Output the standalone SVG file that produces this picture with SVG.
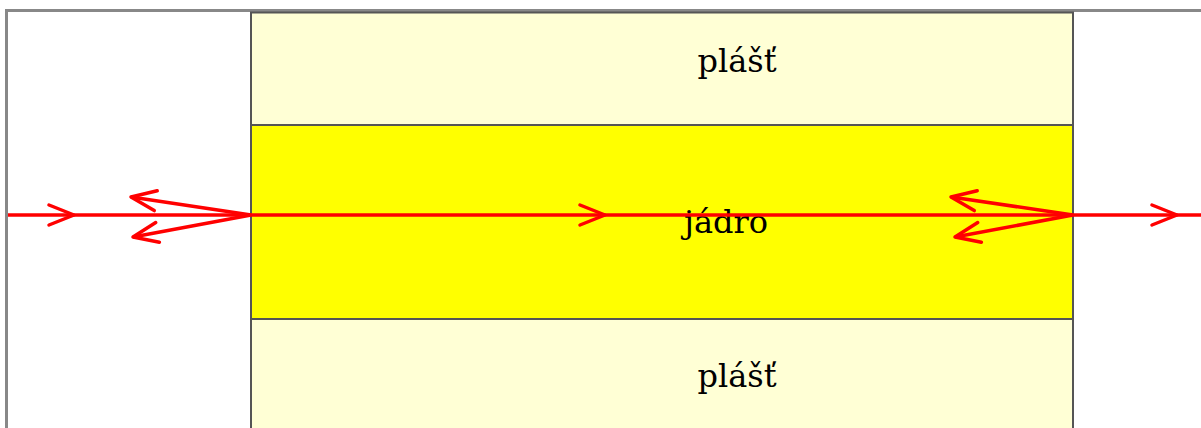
<svg xmlns="http://www.w3.org/2000/svg" width="1201" height="428" viewBox="0 0 1201 428">
<style>
.frame{fill:#fff;stroke:#888;stroke-width:3}
.clad{fill:#ffffd5;stroke:#555;stroke-width:2}
.core{fill:#ffff00;stroke:#555;stroke-width:2}
.lbl{font-family:"DejaVu Serif","Liberation Serif",serif;font-size:32px;fill:#000;text-anchor:middle}
.ray{fill:none;stroke:#ff0000;stroke-width:3.5}
</style>
<defs>
<marker id="chev" markerUnits="userSpaceOnUse" viewBox="-30 -15 34 30" refX="0" refY="0" markerWidth="34" markerHeight="30" orient="auto" overflow="visible">
<path d="M-25,-10 L0,0 L-25,10" fill="none" stroke="#ff0000" stroke-width="3.5" stroke-linecap="round" stroke-linejoin="round"/>
</marker>
</defs>
<rect class="frame" x="6.5" y="10.5" width="1210" height="430"/>
<g id="plast-top">
<rect class="clad" x="251" y="12.5" width="822" height="112.5"/>
<text class="lbl" x="737" y="72">plášť</text>
</g>
<g id="plast-bottom">
<rect class="clad" x="251" y="319" width="822" height="130"/>
<text class="lbl" x="737" y="387">plášť</text>
</g>
<g id="jadro">
<rect class="core" x="251" y="125" width="822" height="194"/>
<text class="lbl" x="726" y="233">jádro</text>
</g>
<g id="connectors">
<path class="ray" d="M8,215 L74,215 L605,215 L1177,215 L1201,215" marker-mid="url(#chev)"/>
<path class="ray" d="M251,215 L131,197" marker-end="url(#chev)"/>
<path class="ray" d="M251,215 L133,237" marker-end="url(#chev)"/>
<path class="ray" d="M1073,215 L951,197" marker-end="url(#chev)"/>
<path class="ray" d="M1073,215 L955,237" marker-end="url(#chev)"/>
</g>
</svg>
